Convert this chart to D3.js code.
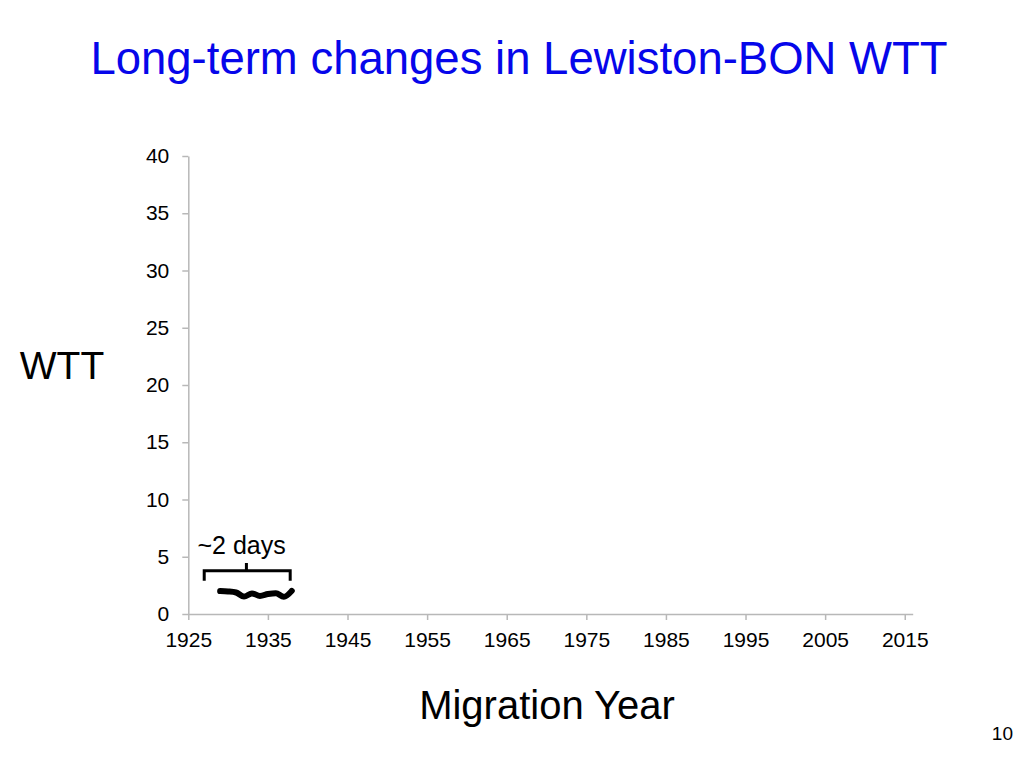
<!DOCTYPE html>
<html>
<head>
<meta charset="utf-8">
<script src="https://cdn.jsdelivr.net/npm/d3@7"></script>
<style>
  html, body { margin: 0; padding: 0; background: #fff; }
  svg { display: block; font-family: "Liberation Sans", Arial, sans-serif; }
</style>
</head>
<body>
<svg id="chart" width="1024" height="768"></svg>
<script>
/* DATA */
var years = [1929, 1930, 1931, 1932, 1933, 1934, 1935, 1936, 1937, 1938];
var wtt = [2.0, 1.97, 1.88, 1.52, 1.8, 1.58, 1.74, 1.82, 1.5, 2.02];
var xTicks = [1925, 1935, 1945, 1955, 1965, 1975, 1985, 1995, 2005, 2015];
var yTicks = [0, 5, 10, 15, 20, 25, 30, 35, 40];
var title = 'Long-term changes in Lewiston-BON WTT';
var note = '~2 days';
var pageNo = '10';

var axisColor = '#b8b8b8';

var svg = d3.select('#chart');

var x = d3.scaleLinear().domain([1925, 2016]).range([188.3, 912.7]);
var y = d3.scaleLinear().domain([0, 40]).range([614, 156]);

// title
svg.append('text')
    .attr('x', 519)
    .attr('y', 74)
    .attr('text-anchor', 'middle')
    .style('font-size', '45.5px')
    .style('fill', '#0606ea')
    .text(title);

// y axis
var yAxis = svg.append('g')
    .attr('transform', 'translate(' + x(1925) + ',0)')
    .call(d3.axisLeft(y).tickValues(yTicks).tickSize(6).tickSizeOuter(0).tickPadding(13));

// x axis
var xAxis = svg.append('g')
    .attr('transform', 'translate(0,' + y(0) + ')')
    .call(d3.axisBottom(x).tickValues(xTicks).tickFormat(d3.format('d')).tickSize(6).tickSizeOuter(0).tickPadding(12));

[yAxis, xAxis].forEach(function(a) {
    a.select('.domain').style('stroke', axisColor).style('stroke-width', 1.5);
    a.selectAll('.tick line').style('stroke', axisColor).style('stroke-width', 1.5);
    a.selectAll('.tick text')
        .style('font-size', '21px')
        .style('font-family', '"Liberation Sans", Arial, sans-serif')
        .style('fill', '#000');
});

// axis titles
svg.append('text')
    .attr('x', 62)
    .attr('y', 379)
    .attr('text-anchor', 'middle')
    .style('font-size', '39px')
    .text('WTT');

svg.append('text')
    .attr('x', 547)
    .attr('y', 719)
    .attr('text-anchor', 'middle')
    .style('font-size', '40px')
    .text('Migration Year');

// series line
var line = d3.line()
    .x(function(d, i) { return x(years[i]); })
    .y(function(d) { return y(d); })
    .curve(d3.curveMonotoneX);

svg.append('path')
    .datum(wtt)
    .attr('d', line)
    .style('fill', 'none')
    .style('stroke', '#000')
    .style('stroke-width', 6)
    .style('stroke-linecap', 'round')
    .style('stroke-linejoin', 'round');

// bracket annotation
var bx0 = 1927.0, bx1 = 1937.8, bmid = 1932.3;
var bTop = 3.78, bEnd = 2.9, bPeak = 4.45;
var bracket = 'M' + x(bx0) + ',' + y(bEnd) +
    'L' + x(bx0) + ',' + y(bTop) +
    'L' + x(bx1) + ',' + y(bTop) +
    'L' + x(bx1) + ',' + y(bEnd) +
    'M' + x(bmid) + ',' + y(bTop) +
    'L' + x(bmid) + ',' + y(bPeak);

svg.append('path')
    .attr('d', bracket)
    .style('fill', 'none')
    .style('stroke', '#000')
    .style('stroke-width', 3);

svg.append('text')
    .attr('x', x(1931.7))
    .attr('y', y(5.24))
    .attr('text-anchor', 'middle')
    .style('font-size', '25px')
    .text(note);

// slide number
svg.append('text')
    .attr('x', 1013)
    .attr('y', 740)
    .attr('text-anchor', 'end')
    .style('font-size', '19px')
    .text(pageNo);
</script>
</body>
</html>
